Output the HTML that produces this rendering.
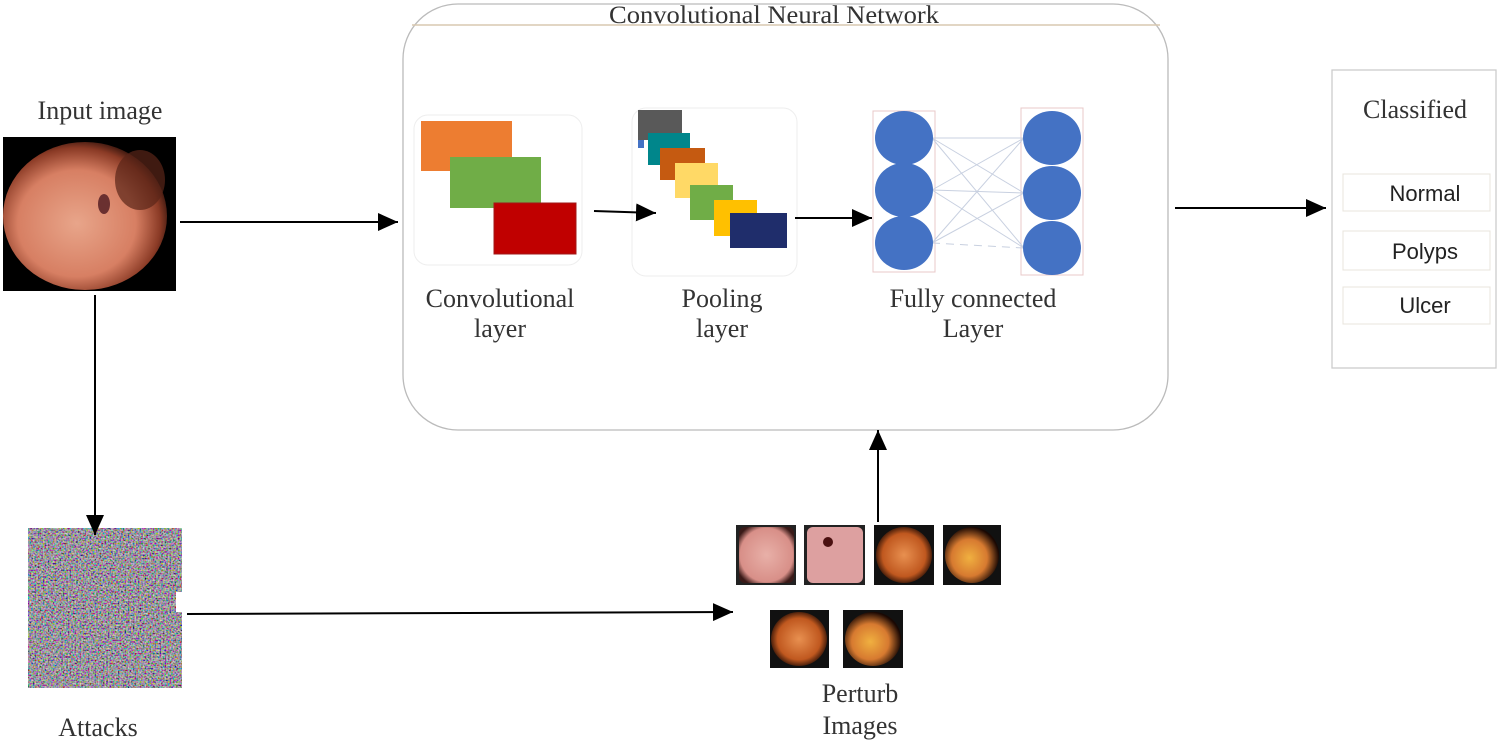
<!DOCTYPE html>
<html><head><meta charset="utf-8"><style>
html,body{margin:0;padding:0;background:#fff;}
svg{display:block;}
</style></head><body>
<svg width="1505" height="744" viewBox="0 0 1505 744" xmlns="http://www.w3.org/2000/svg">
<defs>
<marker id="ab" markerWidth="20" markerHeight="18" refX="20" refY="9" orient="auto" markerUnits="userSpaceOnUse"><path d="M0,0 L20,9 L0,18z" fill="#000"/></marker>
<filter id="noise" x="0" y="0" width="100%" height="100%">
<feTurbulence type="fractalNoise" baseFrequency="0.6" numOctaves="1" seed="3"/>
<feColorMatrix type="matrix" values="1.5 0 0 0 -0.42  0 1.5 0 0 -0.44  0 0 1.5 0 -0.40  0 0 0 0 1"/>
</filter>
<radialGradient id="g1" cx="45%" cy="55%" r="60%"><stop offset="0" stop-color="#e8a58a"/><stop offset="0.6" stop-color="#d77f63"/><stop offset="0.85" stop-color="#8a3a25"/><stop offset="1" stop-color="#1a0805"/></radialGradient>
<radialGradient id="gp" cx="50%" cy="50%" r="60%"><stop offset="0" stop-color="#e8b0a8"/><stop offset="0.8" stop-color="#d88f88"/><stop offset="1" stop-color="#3a1a18"/></radialGradient>
<radialGradient id="go" cx="50%" cy="50%" r="55%"><stop offset="0" stop-color="#e89050"/><stop offset="0.7" stop-color="#c0581f"/><stop offset="1" stop-color="#1a0803"/></radialGradient>
<radialGradient id="gy" cx="45%" cy="55%" r="55%"><stop offset="0" stop-color="#f0b040"/><stop offset="0.6" stop-color="#d77a30"/><stop offset="1" stop-color="#1a0803"/></radialGradient>
</defs>

<rect x="403" y="4" width="765" height="426" rx="55" fill="none" stroke="#bbb" stroke-width="1.3"/>
<line x1="412" y1="25" x2="1160" y2="25" stroke="#d8c8b0" stroke-width="1.5"/>
<text x="774" y="23" font-family="Liberation Serif" font-size="25" text-anchor="middle" fill="#333" textLength="330" lengthAdjust="spacingAndGlyphs">Convolutional Neural Network</text>

<text x="100" y="119" font-family="Liberation Serif" font-size="26" text-anchor="middle" fill="#333">Input image</text>
<rect x="3" y="137" width="173" height="154" fill="#000"/>
<ellipse cx="85" cy="216" rx="82" ry="74" fill="url(#g1)"/>
<ellipse cx="140" cy="180" rx="25" ry="30" fill="#5a2518" opacity="0.7"/>
<ellipse cx="104" cy="204" rx="6" ry="10" fill="#6a3030"/>

<rect x="414" y="115" width="168" height="150" rx="14" fill="#fff" stroke="#eee"/>
<rect x="421" y="121" width="91" height="50" fill="#ed7d31"/>
<rect x="450" y="157" width="91" height="51" fill="#70ad47"/>
<rect x="494" y="203" width="82" height="51" fill="#c00000" stroke="#a01818"/>
<text x="500" y="307" font-family="Liberation Serif" font-size="26" text-anchor="middle" fill="#333">Convolutional</text>
<text x="500" y="337" font-family="Liberation Serif" font-size="26" text-anchor="middle" fill="#333">layer</text>

<rect x="632" y="108" width="165" height="168" rx="14" fill="#fff" stroke="#eee"/>
<rect x="638" y="110" width="44" height="30" fill="#595959"/>
<rect x="638" y="140" width="6" height="8" fill="#4472c4"/>
<rect x="648" y="133" width="42" height="32" fill="#00868b"/>
<rect x="660" y="148" width="45" height="32" fill="#c55a11"/>
<rect x="675" y="163" width="43" height="35" fill="#ffd966"/>
<rect x="690" y="185" width="43" height="35" fill="#70ad47"/>
<rect x="714" y="200" width="43" height="36" fill="#ffc000"/>
<rect x="730" y="213" width="57" height="35" fill="#1f2d6b"/>
<text x="722" y="307" font-family="Liberation Serif" font-size="26" text-anchor="middle" fill="#333">Pooling</text>
<text x="722" y="337" font-family="Liberation Serif" font-size="26" text-anchor="middle" fill="#333">layer</text>

<rect x="873" y="111" width="62" height="161" fill="none" stroke="#e8c8c8"/>
<rect x="1021" y="108" width="62" height="167" fill="none" stroke="#e8c8c8"/>
<g stroke="#c8d0e0" stroke-width="1">
<line x1="932" y1="138" x2="1024" y2="138"/><line x1="932" y1="138" x2="1024" y2="193"/><line x1="932" y1="138" x2="1024" y2="248"/>
<line x1="932" y1="190" x2="1024" y2="138"/><line x1="932" y1="190" x2="1024" y2="193"/><line x1="932" y1="190" x2="1024" y2="248"/>
<line x1="932" y1="243" x2="1024" y2="138"/><line x1="932" y1="243" x2="1024" y2="193"/><line x1="932" y1="243" x2="1024" y2="248" stroke-dasharray="8 6"/>
</g>
<g fill="#4472c4">
<ellipse cx="904" cy="138" rx="29" ry="27"/><ellipse cx="904" cy="190" rx="29" ry="27"/><ellipse cx="904" cy="243" rx="29" ry="27"/>
<ellipse cx="1052" cy="138" rx="29" ry="27"/><ellipse cx="1052" cy="193" rx="29" ry="27"/><ellipse cx="1052" cy="248" rx="29" ry="27"/>
</g>
<text x="973" y="307" font-family="Liberation Serif" font-size="26" text-anchor="middle" fill="#333">Fully connected</text>
<text x="973" y="337" font-family="Liberation Serif" font-size="26" text-anchor="middle" fill="#333">Layer</text>

<rect x="1332" y="70" width="164" height="298" fill="#fff" stroke="#ccc" stroke-width="1.3"/>
<text x="1415" y="118" font-family="Liberation Serif" font-size="26" text-anchor="middle" fill="#333">Classified</text>
<rect x="1343" y="174" width="147" height="37" fill="#fff" stroke="#e8e4dc"/>
<rect x="1343" y="231" width="147" height="39" fill="#fff" stroke="#e8e4dc"/>
<rect x="1343" y="287" width="147" height="37" fill="#fff" stroke="#e8e4dc"/>
<text x="1425" y="201" font-family="Liberation Sans" font-size="22" text-anchor="middle" fill="#222">Normal</text>
<text x="1425" y="259" font-family="Liberation Sans" font-size="22" text-anchor="middle" fill="#222">Polyps</text>
<text x="1425" y="313" font-family="Liberation Sans" font-size="22" text-anchor="middle" fill="#222">Ulcer</text>

<rect x="28" y="528" width="154" height="160" filter="url(#noise)"/>
<rect x="176" y="592" width="8" height="20" fill="#fff"/>
<text x="98" y="736" font-family="Liberation Serif" font-size="26" text-anchor="middle" fill="#333">Attacks</text>

<rect x="736" y="525" width="60" height="60" fill="#222"/><rect x="739" y="527" width="55" height="56" rx="6" fill="url(#gp)"/>
<rect x="804" y="525" width="61" height="60" fill="#222"/><rect x="807" y="527" width="56" height="56" rx="6" fill="#dda0a0"/><circle cx="828" cy="542" r="5" fill="#4a1010"/>
<rect x="874" y="525" width="60" height="60" fill="#111"/><ellipse cx="904" cy="555" rx="28" ry="28" fill="url(#go)"/>
<rect x="943" y="525" width="58" height="60" fill="#111"/><ellipse cx="972" cy="555" rx="27" ry="28" fill="url(#gy)"/>
<rect x="770" y="610" width="59" height="58" fill="#111"/><ellipse cx="799" cy="639" rx="28" ry="27" fill="url(#go)"/>
<rect x="843" y="610" width="60" height="58" fill="#111"/><ellipse cx="873" cy="639" rx="28" ry="27" fill="url(#gy)"/>
<text x="860" y="702" font-family="Liberation Serif" font-size="26" text-anchor="middle" fill="#333">Perturb</text>
<text x="860" y="734" font-family="Liberation Serif" font-size="26" text-anchor="middle" fill="#333">Images</text>

<line x1="180" y1="222" x2="398" y2="222" stroke="#000" stroke-width="2" marker-end="url(#ab)"/>
<line x1="594" y1="211" x2="656" y2="213" stroke="#000" stroke-width="2" marker-end="url(#ab)"/>
<line x1="795" y1="218" x2="872" y2="218" stroke="#000" stroke-width="2" marker-end="url(#ab)"/>
<line x1="1175" y1="208" x2="1326" y2="208" stroke="#000" stroke-width="2" marker-end="url(#ab)"/>
<line x1="95" y1="295" x2="95" y2="535" stroke="#000" stroke-width="2" marker-end="url(#ab)"/>
<line x1="187" y1="614" x2="733" y2="612" stroke="#000" stroke-width="2" marker-end="url(#ab)"/>
<line x1="878" y1="522" x2="878" y2="430" stroke="#000" stroke-width="2" marker-end="url(#ab)"/>
</svg>
</body></html>
